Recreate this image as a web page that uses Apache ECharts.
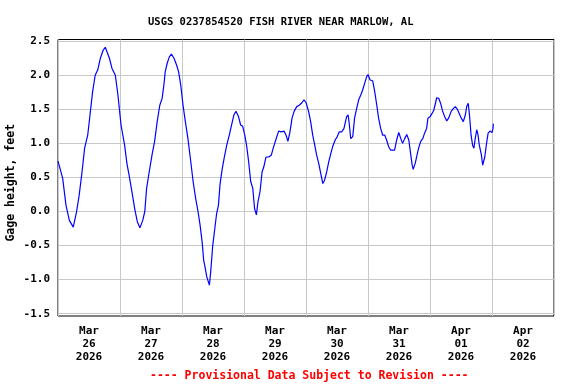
<!DOCTYPE html>
<html>
<head>
<meta charset="utf-8">
<script src="https://cdn.jsdelivr.net/npm/echarts@6/dist/echarts.min.js"></script>
<style>html,body{margin:0;padding:0;background:#fff;}#c{width:576px;height:384px;}</style>
</head>
<body>
<div id="c"></div>
<script>
// Hours since 2026-03-26 00:00
var hours = [0,1.8,3.1,4.4,5.9,7.2,8.2,9.3,10.3,11.5,12.4,13.4,14.4,15.4,16.4,17.5,18.3,19.9,20.9,22.2,23.2,24.4,25.8,26.7,27.4,28.4,29.7,30.7,31.7,32.8,33.6,34.3,35.3,36.4,37.4,38.4,39.4,40.3,41.0,41.5,42.3,43.1,43.9,44.9,45.9,46.7,47.5,48.4,49.3,50.3,51.4,52.3,53.3,54.2,55.0,55.8,56.4,56.8,57.6,58.6,59.1,59.9,60.7,61.4,62.1,62.7,63.5,64.3,65.3,66.3,67.2,68.1,68.9,69.9,70.7,71.5,72.3,73.0,73.8,74.6,75.4,76.1,76.8,77.4,78.2,79.0,79.7,80.5,81.6,82.6,83.3,84.3,85.4,86.4,87.5,88.3,89.0,89.8,90.6,91.4,92.4,93.4,94.5,95.2,96.0,97.0,97.8,98.6,99.4,100.1,100.9,101.7,102.5,103.2,104.0,104.8,105.6,106.3,107.3,108.1,108.9,109.9,110.7,111.7,112.3,112.8,113.3,114.1,114.8,115.6,116.4,117.2,117.9,118.7,119.5,120.0,120.8,121.8,122.6,123.4,124.1,124.9,125.7,126.5,127.2,128.0,128.8,129.5,130.3,131.1,131.9,132.7,133.4,134.2,135.0,135.8,136.5,137.1,137.5,138.3,139.1,139.6,140.4,141.2,141.9,142.7,143.2,144.0,144.8,145.5,146.0,146.6,147.4,148.1,148.9,149.7,150.5,151.2,151.7,152.2,153.0,153.8,154.6,155.3,156.1,156.9,157.7,158.2,158.8,159.4,159.9,160.5,161.0,161.5,162.1,162.6,163.1,163.9,164.4,165.2,166.0,166.5,167.2,168.0,168.4,168.5];
var gageHeight = [0.74,0.49,0.09,-0.13,-0.23,0.0,0.24,0.58,0.93,1.12,1.42,1.76,2.0,2.08,2.25,2.37,2.41,2.25,2.10,2.0,1.71,1.27,0.97,0.70,0.56,0.34,0.04,-0.15,-0.24,-0.13,0.0,0.34,0.58,0.83,1.03,1.32,1.56,1.66,1.86,2.05,2.18,2.27,2.31,2.25,2.15,2.05,1.86,1.56,1.32,1.07,0.73,0.44,0.19,0.0,-0.20,-0.45,-0.72,-0.79,-0.96,-1.08,-0.89,-0.50,-0.25,-0.03,0.09,0.39,0.61,0.78,0.97,1.12,1.27,1.42,1.47,1.39,1.27,1.25,1.12,0.97,0.73,0.44,0.34,0.04,-0.05,0.14,0.29,0.58,0.66,0.80,0.80,0.83,0.93,1.05,1.18,1.17,1.18,1.12,1.03,1.17,1.37,1.47,1.54,1.56,1.60,1.64,1.60,1.47,1.32,1.12,0.97,0.83,0.71,0.56,0.41,0.46,0.58,0.73,0.85,0.95,1.05,1.10,1.17,1.17,1.22,1.39,1.42,1.27,1.07,1.10,1.37,1.51,1.64,1.71,1.78,1.88,1.98,2.01,1.93,1.92,1.76,1.56,1.37,1.22,1.12,1.12,1.05,0.95,0.90,0.92,0.90,1.05,1.16,1.07,1.00,1.07,1.13,1.05,0.85,0.68,0.62,0.71,0.85,0.93,1.03,1.07,1.15,1.22,1.37,1.39,1.44,1.49,1.49,1.67,1.66,1.59,1.47,1.39,1.33,1.37,1.39,1.47,1.51,1.54,1.50,1.44,1.37,1.32,1.42,1.54,1.59,1.37,1.12,0.97,0.93,1.07,1.20,1.12,0.97,0.83,0.68,0.80,1.03,1.15,1.18,1.16,1.22,1.29];
var dateLabels = ["Mar\n26\n2026","Mar\n27\n2026","Mar\n28\n2026","Mar\n29\n2026","Mar\n30\n2026","Mar\n31\n2026","Apr\n01\n2026","Apr\n02\n2026"];
var yTicks = [-1.5,-1.0,-0.5,0.0,0.5,1.0,1.5,2.0,2.5];
var titleText = "USGS 0237854520 FISH RIVER NEAR MARLOW, AL";
var footerText = "---- Provisional Data Subject to Revision ----";
var yName = "Gage height, feet";

var seriesData = hours.map(function (h, i) { return [h, gageHeight[i]]; });
var mono = "DejaVu Sans Mono";
var chart = echarts.init(document.getElementById('c'), null, {renderer: 'canvas'});
chart.setOption({
  animation: false,
  backgroundColor: '#fff',
  title: [
    {text: titleText, left: 143, top: 12, textStyle: {fontFamily: mono, fontSize: 10.5, fontWeight: 'bold', color: '#000'}},
    {text: footerText, left: 145, top: 365, textStyle: {fontFamily: mono, fontSize: 11.5, fontWeight: 'bold', color: '#ff0000'}}
  ],
  grid: {left: 58, top: 39.5, width: 496, height: 276.5, show: true, borderColor: '#000', borderWidth: 1,
    backgroundColor: 'transparent', containLabel: false, outerBoundsMode: 'none'},
  xAxis: [
    {type: 'value', min: 0, max: 192, interval: 24, axisLine: {show: false}, axisTick: {show: false}, axisLabel: {show: false},
     splitLine: {show: true, lineStyle: {color: '#c8c8c8', width: 1}}},
    {type: 'category', data: dateLabels, boundaryGap: true, position: 'bottom', axisLine: {show: false}, axisTick: {show: false}, splitLine: {show: false},
     axisLabel: {margin: 9, fontFamily: mono, fontSize: 11, fontWeight: 'bold', color: '#000', lineHeight: 13, interval: 0}}
  ],
  yAxis: {
    type: 'value', min: -1.534, max: 2.525,
    name: yName, nameLocation: 'middle', nameRotate: 90, nameGap: 41, nameMoveOverlap: false,
    nameTextStyle: {fontFamily: mono, fontSize: 11.5, fontWeight: 'bold', color: '#000', padding: [0, 10, 0, 0]},
    axisLine: {show: false},
    axisTick: {show: false, customValues: yTicks},
    axisLabel: {customValues: yTicks, margin: 8, fontFamily: mono, fontSize: 11, fontWeight: 'bold', color: '#000',
      formatter: function (v) { return (Math.round(v * 10) / 10).toFixed(1); }},
    splitLine: {show: true, lineStyle: {color: '#c8c8c8', width: 1}}
  },
  series: [{
    type: 'line', xAxisIndex: 0, data: seriesData, showSymbol: false, symbol: 'none',
    lineStyle: {color: '#0000ff', width: 1.2}, z: 3
  }]
});
</script>
</body>
</html>
